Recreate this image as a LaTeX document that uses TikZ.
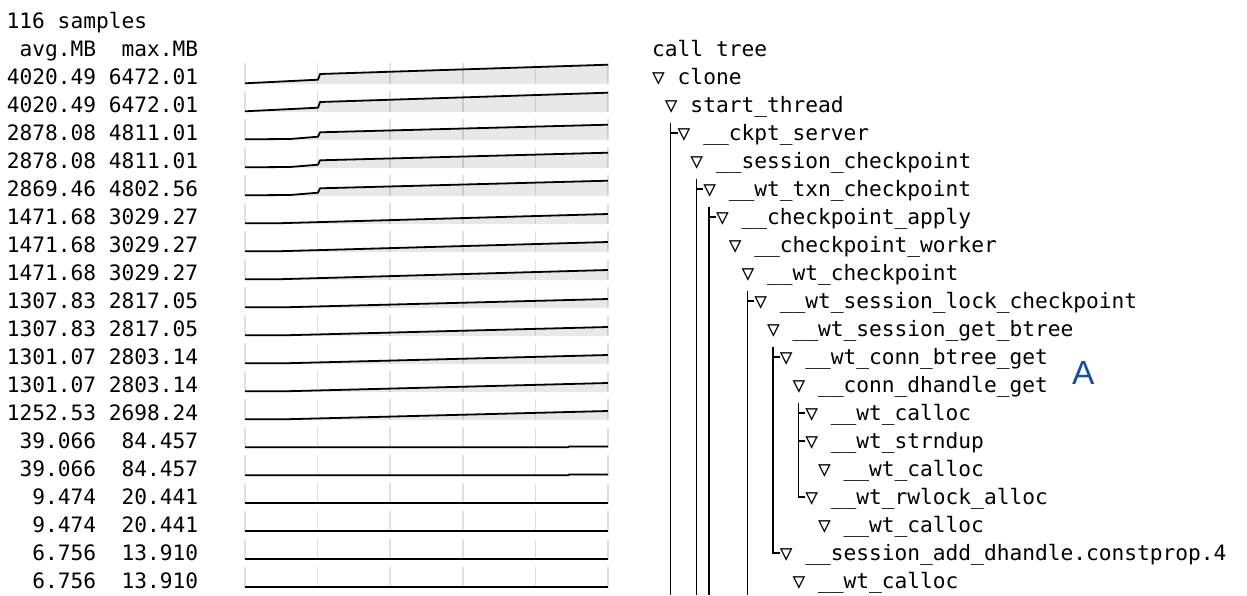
\documentclass[tikz,border=0pt]{standalone}
\usepackage{fontspec}
\setmonofont{DejaVu Sans Mono}
\setsansfont{Liberation Sans}
\definecolor{markblue}{HTML}{1A4BA8}
\definecolor{sparkfill}{HTML}{E8E8E8}

\newcommand\sparkA{(0,0.7) -- (73,4.3) -- (75,10) -- (363,19.3)}
\newcommand\sparkB{(0,0.7) -- (45,1) -- (73,3.3) -- (75,7.7) -- (363,15.3)}
\newcommand\sparkC{(0,0.8) -- (35,0.8) -- (363,10)}
\newcommand\sparkD{(0,0.8) -- (43,0.8) -- (363,9)}
\newcommand\sparkE{(0,0.8) -- (323,0.8) -- (324,1.6) -- (363,1.6)}
\newcommand\sparkF{(0,0.8) -- (363,0.8)}

\begin{document}
\begin{tikzpicture}[x=1pt,y=-1pt,
		txt/.style={inner sep=0pt,font=\fontsize{21.2}{28}\ttfamily},
		guide/.style={line width=1.4pt},
		spark/.style={line width=1.8pt,line join=round},
		gridline/.style={line width=1.5pt,black,opacity=0.12}]
	\useasboundingbox (0,0) rectangle (1247,595);
	\coordinate (bottom) at (0,595);

	\node[txt,anchor=base west] (samples) at (6.5,28) {116 samples};
	\node[txt,anchor=base east] (avghead) at (96.3,56) {avg.MB};
	\node[txt,anchor=base east] (maxhead) at (198.4,56) {max.MB};
	\node[txt,anchor=base west] (treehead) at (652,56) {call tree};

	\foreach \r/\avg/\mx/\s in {1/4020.49/6472.01/A, 2/4020.49/6472.01/A,
			3/2878.08/4811.01/B, 4/2878.08/4811.01/B, 5/2869.46/4802.56/B,
			6/1471.68/3029.27/C, 7/1471.68/3029.27/C, 8/1471.68/3029.27/C,
			9/1307.83/2817.05/D, 10/1307.83/2817.05/D, 11/1301.07/2803.14/D,
			12/1301.07/2803.14/D, 13/1252.53/2698.24/D, 14/39.066/84.457/E,
			15/39.066/84.457/E, 16/9.474/20.441/F, 17/9.474/20.441/F,
			18/6.756/13.910/F, 19/6.756/13.910/F} {
		\node[txt,anchor=base east] (avg\r) at (96.3,{56+28*\r}) {\avg};
		\node[txt,anchor=base east] (max\r) at (198.4,{56+28*\r}) {\mx};
		\expandafter\let\expandafter\sparkpath\csname spark\s\endcsname
		\begin{scope}[shift={(245,{56+28*\r})},yscale=-1]
			\fill[sparkfill] \sparkpath -- (363,0) -- (0,0) -- cycle;
			\foreach \g in {0,...,5}
				\draw[gridline] ({72.6*\g},0) -- ({72.6*\g},21);
			\draw[spark] \sparkpath;
		\end{scope}
	}

	\foreach \r/\c/\name in {1/0/clone, 2/1/start\_thread, 3/2/\_\_ckpt\_server,
			4/3/\_\_session\_checkpoint, 5/4/\_\_wt\_txn\_checkpoint,
			6/5/\_\_checkpoint\_apply, 7/6/\_\_checkpoint\_worker,
			8/7/\_\_wt\_checkpoint, 9/8/\_\_wt\_session\_lock\_checkpoint,
			10/9/\_\_wt\_session\_get\_btree, 11/10/\_\_wt\_conn\_btree\_get,
			12/11/\_\_conn\_dhandle\_get, 13/12/\_\_wt\_calloc,
			14/12/\_\_wt\_strndup, 15/13/\_\_wt\_calloc,
			16/12/\_\_wt\_rwlock\_alloc, 17/13/\_\_wt\_calloc,
			18/10/\_\_session\_add\_dhandle.constprop.4, 19/11/\_\_wt\_calloc}
		\node[txt,anchor=base west] (t\r) at ({652+12.76*\c},{56+28*\r}) {▽ \name};

	% tree guides
	\draw[guide] (t3.base west) ++(-6.8,-17) coordinate (g1) -- (g1 |- bottom);
	\draw[guide] (t5.base west) ++(-6.8,-17) coordinate (g3) -- (g3 |- bottom);
	\draw[guide] (t6.base west) ++(-6.8,-17) coordinate (g4) -- (g4 |- bottom);
	\draw[guide] (t9.base west) ++(-6.8,-17) coordinate (g7) -- (g7 |- bottom);
	\draw[guide] (t11.base west) ++(-6.8,-17) |- ([yshift=7pt]t18.base west);
	\draw[guide] (t13.base west) ++(-6.8,-17) |- ([yshift=7pt]t16.base west);

	\foreach \r in {3,5,6,9,11,13,14}
		\draw[guide] ([shift={(-6.8,-7)}]t\r.base west) -- ([yshift=7pt]t\r.base west);

	\node[inner sep=0pt,anchor=base west,text=markblue,
		font=\fontsize{33.5}{40}\sffamily] (mark) at (1072,384) {A};
\end{tikzpicture}
\end{document}
